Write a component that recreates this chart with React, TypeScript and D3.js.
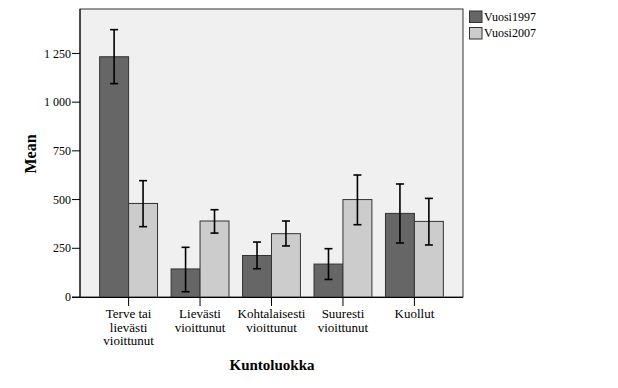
import React from "react";
import * as d3 from "d3";

const categories = ["Terve tai lievästi vioittunut", "Lievästi vioittunut", "Kohtalaisesti vioittunut", "Suuresti vioittunut", "Kuollut"];
const categoryLines = [["Terve tai", "lievästi", "vioittunut"], ["Lievästi", "vioittunut"], ["Kohtalaisesti", "vioittunut"], ["Suuresti", "vioittunut"], ["Kuollut"]];
const seriesNames = ["Vuosi1997", "Vuosi2007"];
const mean1997 = [1233, 144, 213, 169, 429];
const low1997 = [1095, 27, 145, 90, 277];
const high1997 = [1372, 255, 282, 248, 580];
const mean2007 = [480, 390, 325, 500, 388];
const low2007 = [361, 328, 262, 371, 267];
const high2007 = [597, 448, 390, 626, 506];
const yTicks = [0, 250, 500, 750, 1000, 1250];

const colors = ["#666666", "#cccccc"];
const font = "Liberation Serif";

export default function App() {
  const W = 618, H = 388;
  const left = 80, right = 463, top = 9, bottom = 297;
  const x = d3.scaleBand<string>().domain(categories).range([left, right]).paddingInner(0.19).paddingOuter(0.275);
  const xs = d3.scaleBand<string>().domain(seriesNames).range([0, x.bandwidth()]);
  const y = d3.scaleLinear().domain([0, 1478]).range([bottom, top]);
  const fmt = (v: number) => d3.format(",")(v).replace(/,/g, " ");
  const means = [mean1997, mean2007];
  const lows = [low1997, low2007];
  const highs = [high1997, high2007];

  return (
    <svg width={W} height={H} style={{ position: "absolute", left: 0, top: 0, background: "#fff", fontFamily: font }}>
      <rect x={left} y={top} width={right - left} height={bottom - top} fill="#f0f0f0" stroke="#333" strokeWidth={1} />
      {seriesNames.map((s, si) =>
        categories.map((c, ci) => {
          const bx = (x(c) as number) + (xs(s) as number);
          const yv = y(means[si][ci]);
          return (
            <rect key={s + c} x={bx} y={yv} width={xs.bandwidth()} height={bottom - yv}
              fill={colors[si]} stroke="#333" strokeWidth={1} />
          );
        })
      )}
      {seriesNames.map((s, si) =>
        categories.map((c, ci) => {
          const cx = (x(c) as number) + (xs(s) as number) + xs.bandwidth() / 2;
          const y1 = y(highs[si][ci]);
          const y0 = y(lows[si][ci]);
          return (
            <g key={"e" + s + c} stroke="#000" strokeWidth={1.6}>
              <line x1={cx} x2={cx} y1={y1} y2={y0} />
              <line x1={cx - 4} x2={cx + 4} y1={y1} y2={y1} />
              <line x1={cx - 4} x2={cx + 4} y1={y0} y2={y0} />
            </g>
          );
        })
      )}
      <line x1={left} x2={left} y1={top} y2={bottom} stroke="#000" />
      <line x1={left - 8} x2={right} y1={bottom + 0.5} y2={bottom + 0.5} stroke="#000" />
      {yTicks.map((t) => (
        <g key={t}>
          <line x1={left - 8} x2={left} y1={y(t)} y2={y(t)} stroke="#000" />
          <text x={left - 9} y={y(t)} dy="0.35em" textAnchor="end" fontSize={12}>{fmt(t)}</text>
        </g>
      ))}
      {categories.map((c, ci) => {
        const cx = (x(c) as number) + x.bandwidth() / 2;
        return (
          <g key={"c" + c}>
            <line x1={cx} x2={cx} y1={bottom} y2={bottom + 9} stroke="#000" />
            {categoryLines[ci].map((ln, li) => (
              <text key={li} x={cx} y={318 + li * 13.5} textAnchor="middle" fontSize={13}>{ln}</text>
            ))}
          </g>
        );
      })}
      <text x={272} y={370} textAnchor="middle" fontSize={15} fontWeight="bold">Kuntoluokka</text>
      <text transform={`translate(36,154) rotate(-90)`} textAnchor="middle" fontSize={16} fontWeight="bold">Mean</text>
      {seriesNames.map((s, si) => (
        <g key={"l" + s}>
          <rect x={469.5} y={11 + si * 16.5} width={12.5} height={11.5} fill={colors[si]} stroke="#333" strokeWidth={1} />
          <text x={484} y={20.5 + si * 16.5} fontSize={12}>{s}</text>
        </g>
      ))}
    </svg>
  );
}
